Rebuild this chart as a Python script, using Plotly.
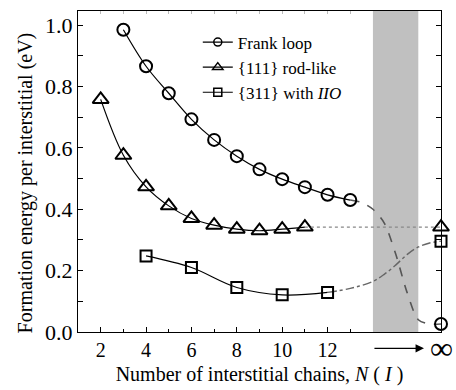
import plotly.graph_objects as go

# ---- data ----
frank_x = [3, 4, 5, 6, 7, 8, 9, 10, 11, 12, 13]
frank_y = [0.985, 0.866, 0.778, 0.693, 0.626, 0.573, 0.530, 0.498, 0.472, 0.447, 0.430]
frank_ext_x = [13, 13.5, 14, 14.5, 15, 15.5, 16, 16.5, 17]
frank_ext_y = [0.430, 0.422, 0.400, 0.355, 0.255, 0.130, 0.040, 0.026, 0.026]

rod_x = [2, 3, 4, 5, 6, 7, 8, 9, 10, 11]
rod_y = [0.758, 0.576, 0.473, 0.411, 0.370, 0.348, 0.335, 0.330, 0.335, 0.342]
rod_ext_x = [11, 17]
rod_ext_y = [0.342, 0.342]

iio_x = [4, 6, 8, 10, 12]
iio_y = [0.248, 0.210, 0.145, 0.121, 0.129]
iio_ext_x = [12, 13, 14, 14.5, 15, 15.5, 16, 16.5, 17]
iio_ext_y = [0.129, 0.142, 0.165, 0.188, 0.218, 0.252, 0.277, 0.290, 0.296]

inf_x = 17
inf_frank = 0.026
inf_rod = 0.342
inf_iio = 0.296

band = [14, 16]
xticks = [2, 4, 6, 8, 10, 12]
xminor = [3, 5, 7, 9, 11, 13]
xtop = [2, 3, 4, 5, 6, 7, 8, 9, 10, 11, 12, 13]

FONT = "Liberation Serif"
fig = go.Figure()

# extensions (behind)
fig.add_trace(go.Scatter(x=frank_ext_x, y=frank_ext_y, mode="lines", line=dict(color="#555", dash="dash", width=1.6, shape="spline", smoothing=0.8), showlegend=False, hoverinfo="skip"))
fig.add_trace(go.Scatter(x=rod_ext_x, y=rod_ext_y, mode="lines", line=dict(color="#888", dash="dot", width=1.2), showlegend=False, hoverinfo="skip", xaxis="x2"))
fig.add_trace(go.Scatter(x=iio_ext_x, y=iio_ext_y, mode="lines", line=dict(color="#666", dash="dashdot", width=1.4, shape="spline"), showlegend=False, hoverinfo="skip"))

def mk(sym, size):
    return dict(symbol=sym, size=size, color="black", line=dict(width=2))

fig.add_trace(go.Scatter(x=frank_x, y=frank_y, mode="lines+markers", showlegend=False,
                         line=dict(color="black", width=1.2, shape="spline"), marker=mk("circle-open", 12)))
fig.add_trace(go.Scatter(x=rod_x, y=rod_y, mode="lines+markers", showlegend=False,
                         line=dict(color="black", width=1.2, shape="spline"), marker=mk("triangle-up-open", 14)))
fig.add_trace(go.Scatter(x=iio_x, y=iio_y, mode="lines+markers", showlegend=False,
                         line=dict(color="black", width=1.2, shape="spline"), marker=mk("square-open", 11)))

# legend entries
for nm, sym, sz in [("Frank loop", "circle-open", 8), ("{111} rod-like", "triangle-up-open", 9),
                    ("{311} with <i>IIO</i>", "square-open", 8)]:
    fig.add_trace(go.Scatter(x=[None], y=[None], mode="lines+markers", name=nm,
                             line=dict(color="black", width=1.2),
                             marker=dict(symbol=sym, size=sz, color="black", line=dict(width=1.5))))

# infinity markers
fig.add_trace(go.Scatter(x=[inf_x], y=[inf_frank], mode="markers", showlegend=False, cliponaxis=False, marker=mk("circle-open", 12)))
fig.add_trace(go.Scatter(x=[inf_x], y=[inf_rod], mode="markers", showlegend=False, cliponaxis=False, marker=mk("triangle-up-open", 14)))
fig.add_trace(go.Scatter(x=[inf_x], y=[inf_iio], mode="markers", showlegend=False, cliponaxis=False, marker=mk("square-open", 11)))

fig.add_vrect(x0=band[0], x1=band[1], fillcolor="#c0c0c0", line_width=0, layer="below", opacity=1)

fig.add_annotation(x=16.25, y=-0.051, xref="x", yref="paper", ax=band[0], ay=0, axref="x", ayref="pixel",
                   showarrow=True, arrowhead=2, arrowsize=1.2, arrowwidth=1.4, arrowcolor="black", text="")
fig.add_annotation(x=inf_x, y=-0.051, xref="x", yref="paper", text="∞", showarrow=False,
                   font=dict(family=FONT, size=32, color="black"), yanchor="middle")
# y-axis title
fig.add_annotation(x=-0.146, y=0.463, xref="paper", yref="paper", text="Formation energy per interstitial (eV)",
                   textangle=-90, showarrow=False, xanchor="center", yanchor="middle",
                   font=dict(family=FONT, size=20, color="black"))

fig.update_layout(
    width=456, height=390,
    margin=dict(l=78, r=14.5, t=11, b=57.5),
    paper_bgcolor="white", plot_bgcolor="white",
    font=dict(family=FONT, color="black"),
    showlegend=True,
    legend=dict(x=0.33, y=0.958, xanchor="left", yanchor="top", bgcolor="rgba(0,0,0,0)",
                font=dict(family=FONT, size=17), tracegroupgap=0),
    xaxis=dict(range=[1, 17], tickvals=xticks, ticks="inside", ticklen=5, tickwidth=1, tickcolor="black",
               showline=True, linecolor="black", linewidth=1, mirror=True, showgrid=False, zeroline=False,
               tickfont=dict(family=FONT, size=20), automargin=False,
               minor=dict(tickvals=xminor, ticks="inside", ticklen=3, tickcolor="black"),
               title=dict(text="Number of interstitial chains, <i>N</i> ( <i>I</i> )", font=dict(family=FONT, size=20), standoff=6)),
    xaxis2=dict(range=[1, 17], overlaying="x", side="top", tickvals=xtop, ticks="inside", ticklen=3,
                tickcolor="#bbbbbb", showticklabels=False, showgrid=False, zeroline=False, showline=False),
    yaxis=dict(range=[0, 1.046], dtick=0.2, tick0=0, tickformat=".1f", ticks="inside", ticklen=5, tickcolor="black",
               showline=True, linecolor="black", linewidth=1, mirror="allticks", showgrid=False, zeroline=False,
               tickfont=dict(family=FONT, size=22), automargin=False,
               minor=dict(dtick=0.1, ticks="inside", ticklen=5, tickcolor="black")),
)

fig.write_html("out.html", config={"displayModeBar": False},
               post_script="document.body.style.margin='0';document.body.style.padding='0';")
